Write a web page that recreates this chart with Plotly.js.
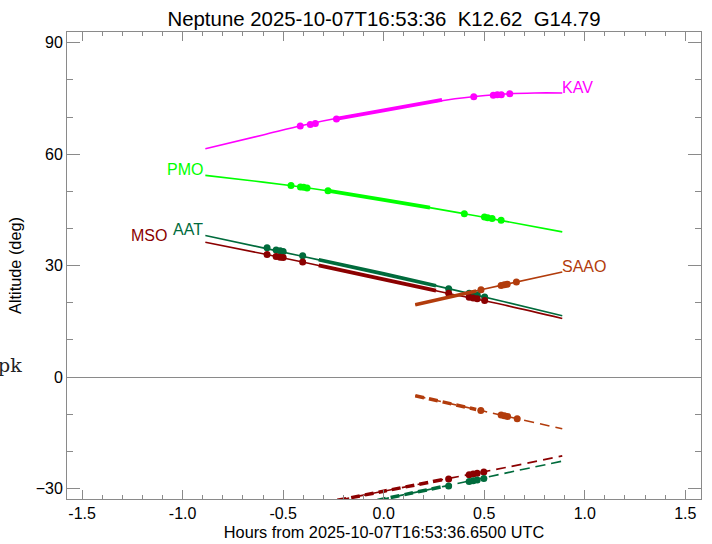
<!DOCTYPE html>
<html>
<head>
<meta charset="utf-8">
<script src="https://cdn.plot.ly/plotly-3.0.1.min.js"></script>
<style>html,body{margin:0;padding:0;background:#fff;}#chart{width:712px;height:544px;}</style>
</head>
<body>
<div id="chart"></div>
<script>
// ---- Data (hours from reference time, altitude in degrees) ----
const sites = ["KAV", "PMO", "AAT", "MSO", "SAAO"];

// KAV
const kavX      = [-0.887, -0.6, -0.4, -0.2, 0.0, 0.2, 0.4, 0.6, 0.75, 0.888];
const kavAlt    = [61.5, 65.2, 67.8, 70.0, 71.8, 73.7, 75.2, 76.2, 76.5, 76.5];
const kavThickX = [-0.23, 0.0, 0.29];
const kavThickA = [69.6, 71.8, 74.6];
const kavDotX   = [-0.415, -0.365, -0.34, -0.235, 0.448, 0.545, 0.565, 0.585, 0.627];
const kavDotA   = [67.6, 68.0, 68.3, 69.5, 75.5, 75.9, 76.0, 76.0, 76.3];

// PMO
const pmoX      = [-0.887, -0.6, -0.4, -0.2, 0.0, 0.2, 0.4, 0.6, 0.888];
const pmoAlt    = [54.3, 52.5, 51.1, 49.5, 47.7, 45.9, 44.0, 42.0, 39.1];
const pmoThickX = [-0.28, 0.0, 0.23];
const pmoThickA = [50.2, 47.7, 45.6];
const pmoDotX   = [-0.461, -0.414, -0.398, -0.381, -0.277, 0.401, 0.501, 0.517, 0.539, 0.584];
const pmoDotA   = [51.6, 51.2, 51.1, 50.9, 50.2, 44.0, 43.1, 42.9, 42.7, 42.2];

// AAT
const aatX      = [-0.887, -0.6, -0.3, 0.0, 0.3, 0.6, 0.888];
const aatAlt    = [38.1, 34.8, 31.3, 27.8, 24.1, 20.3, 16.5];
const aatThickX = [-0.323, 0.0, 0.26];
const aatThickA = [31.6, 27.8, 24.6];
const aatDotX   = [-0.58, -0.535, -0.515, -0.5, -0.403, 0.323, 0.425, 0.445, 0.465, 0.502];
const aatDotA   = [34.8, 34.2, 34.0, 33.8, 32.7, 23.8, 22.6, 22.4, 22.2, 21.6];
const aatDashX  = [-0.1, 0.0, 0.3, 0.6, 0.888];
const aatDashA  = [-34.0, -32.8, -29.4, -25.9, -22.6];
const aatDashThickX = [-0.1, 0.0, 0.3];
const aatDashThickA = [-34.0, -32.8, -29.4];
const aatDashDotX = [0.323, 0.425, 0.445, 0.465, 0.498];
const aatDashDotA = [-29.3, -28.1, -27.9, -27.7, -27.3];

// MSO
const msoX      = [-0.887, -0.6, -0.3, 0.0, 0.3, 0.6, 0.888];
const msoAlt    = [36.3, 33.2, 29.8, 26.3, 22.8, 19.4, 15.8];
const msoThickX = [-0.323, 0.0, 0.26];
const msoThickA = [30.1, 26.3, 23.3];
const msoDotX   = [-0.58, -0.535, -0.515, -0.5, -0.403, 0.323, 0.425, 0.445, 0.465, 0.502];
const msoDotA   = [33.0, 32.5, 32.3, 32.2, 31.0, 22.6, 21.5, 21.3, 21.1, 20.6];
const msoDashX  = [-0.3, 0.0, 0.3, 0.6, 0.888];
const msoDashA  = [-33.9, -30.7, -27.5, -24.4, -21.2];
const msoDashThickX = [-0.3, 0.0, 0.3];
const msoDashThickA = [-33.9, -30.7, -27.5];
const msoDashDotX = [0.323, 0.425, 0.445, 0.465, 0.498];
const msoDashDotA = [-27.4, -26.3, -26.1, -25.9, -25.5];

// SAAO
const saaoX      = [0.157, 0.4, 0.6, 0.888];
const saaoAlt    = [19.5, 22.5, 24.9, 28.3];
const saaoThickX = [0.157, 0.46];
const saaoThickA = [19.5, 23.2];
const saaoDotX   = [0.484, 0.584, 0.6, 0.614, 0.66];
const saaoDotA   = [23.5, 24.7, 24.9, 25.0, 25.6];
const saaoDashX  = [0.157, 0.5, 0.888];
const saaoDashA  = [-5.0, -9.2, -13.9];
const saaoDashThickX = [0.157, 0.46];
const saaoDashThickA = [-5.0, -8.7];
const saaoDashDotX = [0.483, 0.584, 0.6, 0.616, 0.664];
const saaoDashDotA = [-9.0, -10.2, -10.4, -10.6, -11.2];

// Labels
const labelX = [0.882, -0.892, -0.892, -1.075, 0.882];
const labelY = [77.9, 56.0, 39.8, 38.0, 29.9];

const xTicks = [-1.5, -1.0, -0.5, 0.0, 0.5, 1.0, 1.5];
const xTickText = ["-1.5", "-1.0", "-0.5", "0.0", "0.5", "1.0", "1.5"];
const yTicks = [-30, 0, 30, 60, 90];

const titleText = "Neptune 2025-10-07T16:53:36\u00a0\u00a0K12.62\u00a0\u00a0G14.79";
const xTitle = "Hours from 2025-10-07T16:53:36.6500 UTC";
const yTitle = "Altitude (deg)";

// ---- Styling ----
const colors = {KAV: "#ff00ff", PMO: "#00ff00", AAT: "#006b3c", MSO: "#8b0000", SAAO: "#b23c0c"};
const FONT = "Liberation Sans, Arial, Helvetica, sans-serif";

function ln(x, y, c, w, dash, spline) {
  return {x: x, y: y, type: "scatter", mode: "lines", hoverinfo: "skip", showlegend: false,
    line: {color: c, width: w, dash: dash || "solid", shape: spline ? "spline" : "linear"}};
}
function dots(x, y, c, s) {
  return {x: x, y: y, type: "scatter", mode: "markers", hoverinfo: "skip", showlegend: false,
    marker: {color: c, size: s || 7, line: {width: 0}}};
}

const THIN = 1.6, THICK = 3.8;
const DTHIN = "10px,6px", DTHICK = "9px,5px";
const traces = [
  ln(kavX, kavAlt, colors.KAV, THIN, null, true),
  ln(kavThickX, kavThickA, colors.KAV, THICK, null, true),
  dots(kavDotX, kavDotA, colors.KAV),
  ln(pmoX, pmoAlt, colors.PMO, THIN, null, true),
  ln(pmoThickX, pmoThickA, colors.PMO, THICK, null, true),
  dots(pmoDotX, pmoDotA, colors.PMO),
  ln(aatX, aatAlt, colors.AAT, THIN, null, true),
  ln(aatThickX, aatThickA, colors.AAT, THICK, null, true),
  dots(aatDotX, aatDotA, colors.AAT),
  ln(msoX, msoAlt, colors.MSO, THIN, null, true),
  ln(msoThickX, msoThickA, colors.MSO, THICK, null, true),
  dots(msoDotX, msoDotA, colors.MSO),
  ln(saaoX, saaoAlt, colors.SAAO, THIN, null, true),
  ln(saaoThickX, saaoThickA, colors.SAAO, 3.5, null, false),
  dots(saaoDotX, saaoDotA, colors.SAAO),
  ln(saaoDashX, saaoDashA, colors.SAAO, THIN, DTHIN, true),
  ln(saaoDashThickX, saaoDashThickA, colors.SAAO, 3.5, DTHICK, false),
  dots(saaoDashDotX, saaoDashDotA, colors.SAAO),
  ln(msoDashX, msoDashA, colors.MSO, THIN, DTHIN, true),
  ln(msoDashThickX, msoDashThickA, colors.MSO, 3.5, DTHICK, true),
  dots(msoDashDotX, msoDashDotA, colors.MSO),
  ln(aatDashX, aatDashA, colors.AAT, THIN, DTHIN, true),
  ln(aatDashThickX, aatDashThickA, colors.AAT, 3.5, DTHICK, true),
  dots(aatDashDotX, aatDashDotA, colors.AAT)
];

const anchors = ["left", "right", "right", "right", "left"];
const annotations = sites.map((s, i) => ({
  x: labelX[i], y: labelY[i], xref: "x", yref: "y", text: s, showarrow: false,
  xanchor: anchors[i], yanchor: "middle", borderpad: 0,
  font: {family: FONT, size: 16, color: colors[s]}
}));
annotations.push({
  x: -0.0695, y: 0.286, xref: "paper", yref: "paper", text: "pk", showarrow: false,
  xanchor: "right", yanchor: "middle", borderpad: 0,
  font: {family: "DejaVu Serif, Liberation Serif, serif", size: 19, color: "#222"}
});

const axCol = "#8a8a8a";
const layout = {
  width: 712, height: 544,
  margin: {l: 67, r: 11, t: 32, b: 45},
  paper_bgcolor: "#ffffff", plot_bgcolor: "#ffffff",
  font: {family: FONT, size: 16, color: "#000"},
  title: {text: titleText, font: {family: FONT, size: 20.4, color: "#000"},
    xref: "paper", x: 0.5, xanchor: "center", yref: "container", y: 0.966, yanchor: "middle"},
  xaxis: {
    range: [-1.575, 1.578], tickvals: xTicks, ticktext: xTickText,
    ticks: "inside", ticklen: 9, tickwidth: 1, tickcolor: axCol,
    showline: true, linecolor: axCol, linewidth: 1, mirror: "ticks",
    showgrid: false, zeroline: false,
    minor: {ticks: "inside", dtick: 0.1, tick0: 0, ticklen: 4, tickcolor: axCol, showgrid: false},
    tickfont: {family: FONT, size: 16, color: "#000"},
    title: {text: xTitle, font: {family: FONT, size: 16.3, color: "#000"}, standoff: 5}
  },
  yaxis: {
    range: [-32.8, 92.9], tickvals: yTicks,
    ticks: "inside", ticklen: 13, tickwidth: 1, tickcolor: axCol,
    showline: true, linecolor: axCol, linewidth: 1, mirror: "ticks",
    showgrid: false, zeroline: true, zerolinecolor: axCol, zerolinewidth: 1,
    minor: {ticks: "inside", dtick: 10, tick0: 0, ticklen: 6, tickcolor: axCol, showgrid: false},
    tickfont: {family: FONT, size: 16, color: "#000"},
    title: {text: yTitle, font: {family: FONT, size: 16.3, color: "#000"}, standoff: 9}
  },
  annotations: annotations,
  showlegend: false
};

Plotly.newPlot("chart", traces, layout, {staticPlot: true, displayModeBar: false});
</script>
</body>
</html>
